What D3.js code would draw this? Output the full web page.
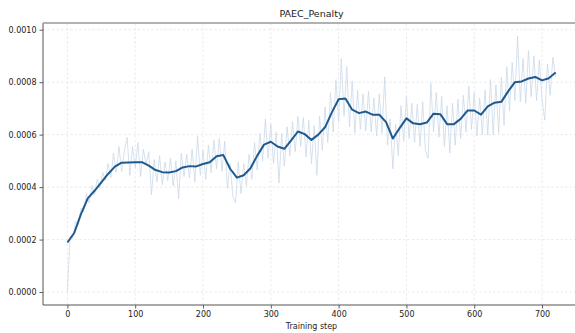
<!DOCTYPE html>
<html>
<head>
<meta charset="utf-8">
<script src="https://cdn.jsdelivr.net/npm/d3@7"></script>
<style>
  html, body { margin: 0; padding: 0; background: #fff; }
  svg { display: block; font-family: "DejaVu Sans", sans-serif; }
</style>
</head>
<body>
<svg id="chart" width="575" height="333"></svg>
<script>
// Raw per-step penalty, sampled every 4 training steps (units of 1e-4)
const rawEvery = 4;
const rawValues = [
  0.00, 2.10, 2.05, 2.70, 2.55, 3.20, 3.05, 3.75, 3.40, 4.05, 3.70, 4.30, 3.95, 4.55, 4.25, 4.90,
  4.35, 5.30, 4.55, 5.55, 4.60, 5.40, 5.90, 4.45, 5.55, 4.75, 5.70, 4.40, 5.45, 4.85, 5.35, 3.70,
  5.05, 4.20, 5.20, 4.10, 4.95, 4.25,
  5.10, 4.05, 5.00, 3.55, 5.30, 4.40, 5.25, 4.35, 5.45, 4.20, 5.95, 4.45, 5.40, 4.30, 5.60, 4.55,
  5.80, 4.70, 5.85, 4.60, 5.75, 3.95, 4.90,
  3.65, 3.40, 4.95, 3.75, 4.90, 4.05, 5.25, 4.30, 5.70, 4.65, 6.05, 5.00, 6.60, 5.10, 6.40,
  4.90, 6.10, 4.15, 6.05, 4.80, 6.30, 5.20, 6.50, 5.35, 6.70, 5.55, 6.65, 5.15, 6.55, 4.90, 6.35,
  4.45, 6.70, 5.40, 7.05, 5.70, 7.60, 6.10, 8.10, 6.50, 8.90, 6.70, 8.60, 6.30,
  8.05, 6.05, 7.70, 6.20, 7.55, 6.15, 7.65, 6.10, 7.40, 5.95, 7.55, 6.05, 8.20,
  5.60, 6.60, 4.70, 6.40, 5.20, 7.10, 5.75, 7.45, 5.85, 7.20, 5.70, 7.15, 5.55,
  7.25, 5.40, 5.10, 7.95, 6.10, 7.60, 5.90, 7.45, 5.55, 7.10, 5.30, 7.20, 5.60, 7.35, 5.85, 7.50,
  6.10, 7.85, 6.20, 7.60, 5.95, 7.40, 6.00, 7.70,
  5.98, 8.10, 6.00, 7.90, 6.05, 8.20, 6.35, 8.60, 6.90, 8.75, 7.30, 9.75, 7.25, 8.90, 7.20, 9.20,
  7.45, 9.00, 7.30, 8.85, 7.35, 6.55, 8.70, 7.50, 8.95, 8.20
];

// Smoothed penalty, every 10 training steps (units of 1e-4)
const smoothEvery = 10;
const smoothValues = [
  1.89, 2.25, 2.97, 3.57, 3.86, 4.18, 4.50, 4.78, 4.93, 4.94,
  4.95, 4.95, 4.82, 4.65, 4.57, 4.56, 4.61, 4.75, 4.80, 4.79,
  4.88, 4.95, 5.18, 5.22, 4.70, 4.36, 4.45, 4.72, 5.20, 5.62,
  5.73, 5.55, 5.46, 5.78, 6.12, 6.02, 5.80, 6.00, 6.28, 6.85,
  7.35, 7.38, 6.95, 6.82, 6.88, 6.76, 6.76, 6.48, 5.85, 6.25,
  6.62, 6.43, 6.40, 6.46, 6.80, 6.78, 6.40, 6.40, 6.60, 6.92,
  6.92, 6.76, 7.08, 7.22, 7.25, 7.65, 8.00, 8.03, 8.14, 8.20,
  8.07, 8.15, 8.37
];

const xTicks = [0, 100, 200, 300, 400, 500, 600, 700];
const yTicks = [0, 0.0002, 0.0004, 0.0006, 0.0008, 0.0010];
const titleText = "PAEC_Penalty";
const xLabelText = "Training step";

const scaleUnit = 1e-4;
const raw = rawValues.map((v, i) => ({ step: i * rawEvery, value: v * scaleUnit }));
const smooth = smoothValues.map((v, i) => ({ step: i * smoothEvery, value: v * scaleUnit }));

const svg = d3.select("#chart");
const plot = { left: 43, right: 580, top: 23, bottom: 305 };

const x = d3.scaleLinear().domain([-36, 756]).range([plot.left, plot.right]);
const y = d3.scaleLinear().domain([-0.0000494, 0.0010256]).range([plot.bottom, plot.top]);

// Grid
const grid = svg.append("g").attr("stroke", "#e3e3e3").attr("stroke-width", 0.7)
  .attr("stroke-dasharray", "2.5,2");
grid.selectAll("line.gx").data(xTicks).join("line")
  .attr("x1", d => x(d)).attr("x2", d => x(d))
  .attr("y1", plot.top).attr("y2", plot.bottom);
grid.selectAll("line.gy").data(yTicks).join("line")
  .attr("x1", plot.left).attr("x2", plot.right)
  .attr("y1", d => y(d)).attr("y2", d => y(d));

// Lines
const line = d3.line().x(d => x(d.step)).y(d => y(d.value));
svg.append("path").datum(raw)
  .attr("fill", "none").attr("stroke", "#c9d8e8").attr("stroke-width", 0.9)
  .attr("stroke-opacity", 0.85).attr("d", line);
svg.append("path").datum(smooth)
  .attr("fill", "none").attr("stroke", "#1f5a8e").attr("stroke-width", 2)
  .attr("stroke-linejoin", "round").attr("d", line);

// Axes
const fmt = d3.format(".4f");
const xAxis = svg.append("g").attr("transform", `translate(0,${plot.bottom})`)
  .call(d3.axisBottom(x).tickValues(xTicks).tickSize(3.5).tickPadding(3));
const yAxis = svg.append("g").attr("transform", `translate(${plot.left},0)`)
  .call(d3.axisLeft(y).tickValues(yTicks).tickFormat(fmt).tickSize(3.5).tickPadding(3));
[xAxis, yAxis].forEach(a => {
  a.select(".domain").remove();
  a.selectAll(".tick line").attr("stroke", "#333").attr("stroke-width", 0.8);
  a.selectAll(".tick text").attr("fill", "#222").style("font-size", "8px")
    .style("font-family", "DejaVu Sans, sans-serif");
});

// Spines
const spines = svg.append("g").attr("fill", "none");
spines.append("line").attr("x1", plot.left).attr("x2", plot.right)
  .attr("y1", plot.bottom).attr("y2", plot.bottom).attr("stroke", "#555").attr("stroke-width", 1);
spines.append("line").attr("x1", plot.left).attr("x2", plot.left)
  .attr("y1", plot.top).attr("y2", plot.bottom).attr("stroke", "#555").attr("stroke-width", 1);
spines.append("line").attr("x1", plot.left).attr("x2", plot.right)
  .attr("y1", plot.top).attr("y2", plot.top).attr("stroke", "#999").attr("stroke-width", 1.4);

// Title and label
svg.append("text").attr("x", (plot.left + plot.right) / 2).attr("y", 17)
  .attr("text-anchor", "middle").style("font-size", "9.5px").attr("fill", "#222").text(titleText);
svg.append("text").attr("x", (plot.left + plot.right) / 2).attr("y", 329)
  .attr("text-anchor", "middle").style("font-size", "8px").attr("fill", "#222").text(xLabelText);
</script>
</body>
</html>
